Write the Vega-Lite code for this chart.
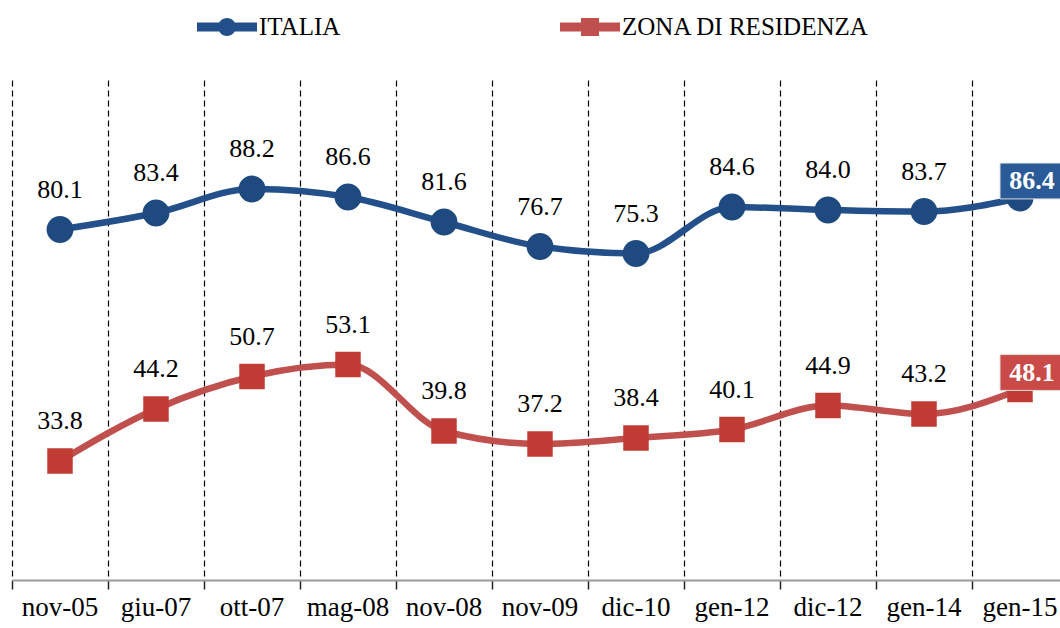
{
  "$schema": "https://vega.github.io/schema/vega-lite/v6.json",
  "autosize": {"type": "none"},
  "padding": {"left": 12, "top": 80, "right": 0, "bottom": 48},
  "width": 1048,
  "height": 500,
  "background": "white",
  "config": {"view": {"stroke": null}, "font": "Liberation Serif"},
  "data": {"values": [
    {"d": "nov-05", "s": "ITALIA", "v": 80.1},
    {"d": "giu-07", "s": "ITALIA", "v": 83.4},
    {"d": "ott-07", "s": "ITALIA", "v": 88.2},
    {"d": "mag-08", "s": "ITALIA", "v": 86.6},
    {"d": "nov-08", "s": "ITALIA", "v": 81.6},
    {"d": "nov-09", "s": "ITALIA", "v": 76.7},
    {"d": "dic-10", "s": "ITALIA", "v": 75.3},
    {"d": "gen-12", "s": "ITALIA", "v": 84.6},
    {"d": "dic-12", "s": "ITALIA", "v": 84.0},
    {"d": "gen-14", "s": "ITALIA", "v": 83.7},
    {"d": "gen-15", "s": "ITALIA", "v": 86.4},
    {"d": "nov-05", "s": "ZONA DI RESIDENZA", "v": 33.8},
    {"d": "giu-07", "s": "ZONA DI RESIDENZA", "v": 44.2},
    {"d": "ott-07", "s": "ZONA DI RESIDENZA", "v": 50.7},
    {"d": "mag-08", "s": "ZONA DI RESIDENZA", "v": 53.1},
    {"d": "nov-08", "s": "ZONA DI RESIDENZA", "v": 39.8},
    {"d": "nov-09", "s": "ZONA DI RESIDENZA", "v": 37.2},
    {"d": "dic-10", "s": "ZONA DI RESIDENZA", "v": 38.4},
    {"d": "gen-12", "s": "ZONA DI RESIDENZA", "v": 40.1},
    {"d": "dic-12", "s": "ZONA DI RESIDENZA", "v": 44.9},
    {"d": "gen-14", "s": "ZONA DI RESIDENZA", "v": 43.2},
    {"d": "gen-15", "s": "ZONA DI RESIDENZA", "v": 48.1}
  ]},
  "encoding": {
    "x": {
      "field": "d", "type": "ordinal", "sort": null, "title": null,
      "scale": {"type": "band", "paddingInner": 0, "paddingOuter": 0, "range": [0, 1056]},
      "axis": {
        "bandPosition": 0,
        "grid": true, "gridColor": "#000000", "gridDash": [6, 4], "gridWidth": 1.2,
        "domainColor": "#9a9a9a", "domainWidth": 2,
        "tickColor": "#222222", "tickSize": 9, "tickWidth": 1.5,
        "labelFont": "Liberation Serif", "labelFontSize": 27,
        "labelColor": "#000000", "labelPadding": 5, "labelAngle": 0, "labelOverlap": false, "labelLimit": 0
      }
    },
    "y": {
      "field": "v", "type": "quantitative",
      "scale": {"domain": [10, 110], "nice": false, "zero": false},
      "axis": null
    }
  },
  "layer": [
    {
      "mark": {"type": "line", "strokeWidth": 6.5, "interpolate": "monotone"},
      "encoding": {
        "color": {
          "field": "s", "type": "nominal",
          "scale": {"domain": ["ITALIA", "ZONA DI RESIDENZA"], "range": ["#23508A", "#C0504D"]},
          "legend": {
            "title": null, "orient": "none", "direction": "horizontal",
            "legendX": 185, "legendY": -83, "padding": 0,
            "symbolSize": 3600, "labelOffset": 2, "columnPadding": 219, "labelLimit": 0,
            "labelFont": "Liberation Serif", "labelFontSize": 25, "labelColor": "#000000",
            "encode": {
              "symbols": {
                "update": {
                  "shape": {"signal": "datum.value === 'ITALIA' ? 'M-1,-0.15L1,-0.15L1,0.15L-1,0.15Z M-0.3,0A0.3,0.3 0 1,1 0.3,0A0.3,0.3 0 1,1 -0.3,0Z' : 'M-1,-0.15L1,-0.15L1,0.15L-1,0.15Z M-0.3,-0.3L0.3,-0.3L0.3,0.3L-0.3,0.3Z'"},
                  "fill": {"signal": "datum.value === 'ITALIA' ? '#23508A' : '#C0504D'"},
                  "fillOpacity": {"value": 1},
                  "strokeWidth": {"value": 0}
                }
              }
            }
          }
        }
      }
    },
    {
      "transform": [{"filter": "datum.s === 'ITALIA'"}],
      "mark": {"type": "point", "shape": "circle", "filled": true, "size": 720, "color": "#1F4A80", "opacity": 1}
    },
    {
      "transform": [{"filter": "datum.s !== 'ITALIA'"}],
      "mark": {"type": "point", "shape": "square", "filled": true, "size": 650, "color": "#C13B35", "opacity": 1}
    },
    {
      "transform": [{"filter": "datum.d !== 'gen-15'"}],
      "mark": {"type": "text", "dy": -40, "baseline": "middle", "font": "Liberation Serif", "fontSize": 26, "color": "#000000"},
      "encoding": {"text": {"field": "v", "type": "quantitative", "format": ".1f"}}
    },
    {
      "transform": [{"filter": "datum.d === 'gen-15'"}],
      "mark": {"type": "point", "shape": "M-1,-0.56L1,-0.56L1,0.56L-1,0.56Z", "size": 4096, "filled": true, "opacity": 1, "xOffset": 12, "yOffset": -17, "stroke": "#dddddd", "strokeWidth": 1},
      "encoding": {
        "color": {"field": "s", "type": "nominal", "scale": {"domain": ["ITALIA", "ZONA DI RESIDENZA"], "range": ["#2A5A97", "#C94A46"]}, "legend": null}
      }
    },
    {
      "transform": [{"filter": "datum.d === 'gen-15'"}],
      "mark": {"type": "text", "dx": 12, "dy": -17, "baseline": "middle", "font": "Liberation Serif", "fontSize": 26, "fontWeight": "bold", "color": "#ffffff"},
      "encoding": {"text": {"field": "v", "type": "quantitative", "format": ".1f"}}
    }
  ],
  "resolve": {"scale": {"color": "independent"}}
}
